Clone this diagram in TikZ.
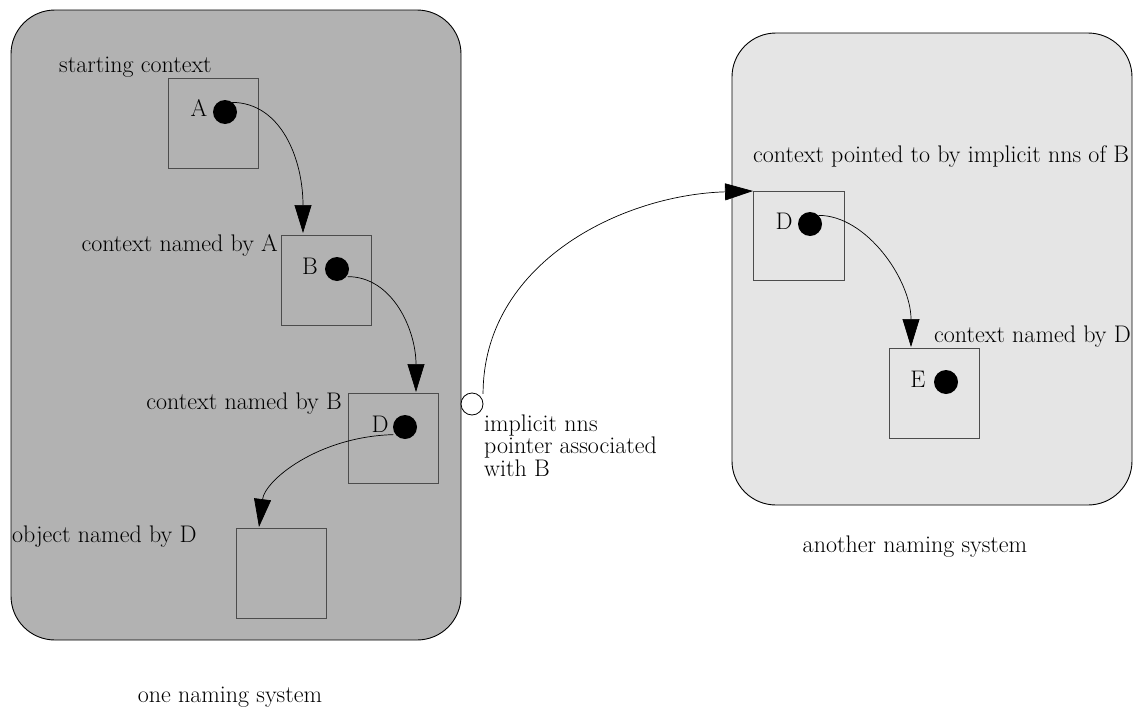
\documentclass[tikz,border=0pt]{standalone}
\usetikzlibrary{arrows.meta}
\begin{document}
\begin{tikzpicture}[x=1pt,y=-1pt,
  every node/.style={font=\fontsize{24}{28}\selectfont},
  region/.style={draw=black,line width=0.9pt,rounded corners=44pt},
  ctxbox/.style={draw=black!70,line width=0.9pt,fill=none},
  dot/.style={circle,fill=black,inner sep=0pt,minimum size=24pt},
  hole/.style={circle,draw=black,fill=white,line width=0.8pt,inner sep=0pt,minimum size=22pt},
  link/.style={draw=black,line width=0.7pt,-{Triangle[length=28pt,width=17pt]}},
  lbl/.style={inner sep=0pt}
]
\useasboundingbox (0,0) rectangle (1133,707);

% the two naming systems
\draw[region,fill=black!30] (11,10) rectangle (461,640);
\draw[region,fill=black!10] (732,33) rectangle (1132,505);

% contexts of the first system
\draw[ctxbox] (168,78) rectangle (258,168);
\draw[ctxbox] (281,235) rectangle (371,325);
\draw[ctxbox] (348,393) rectangle (438,483);
\draw[ctxbox] (236,528) rectangle (326,618);
% contexts of the second system
\draw[ctxbox] (753,191) rectangle (844,280);
\draw[ctxbox] (889,348) rectangle (979,438);

% bound names
\node[dot] (dA) at (225,112) {};
\node[dot] (dB) at (337,269) {};
\node[dot] (dD) at (405,427) {};
\node[dot] (dD2) at (810,224) {};
\node[dot] (dE) at (946,382) {};
\node[lbl,anchor=base] (nA) at (199,116) {A};
\node[lbl,anchor=base] (nB) at (310,274) {B};
\node[lbl,anchor=base] (nD) at (380,432) {D};
\node[lbl,anchor=base] (nD2) at (784,229) {D};
\node[lbl,anchor=base] (nE) at (918,387) {E};

% implicit nns pointer
\node[hole] (nns) at (472,404) {};

% arrow targets on the boxes
\coordinate (tB) at (303,233);
\coordinate (tD) at (416,392);
\coordinate (tObj) at (259,527);
\coordinate (tD2) at (753,191);
\coordinate (tE) at (911,347);

% name resolution links
\draw[link] (dA.north east) ++(-2,-1) .. controls +(50,0) and (303,160) .. (tB);
\draw[link] (dB.south east) ++(2,-1) .. controls +(45,0) and (416,330) .. (tD);
\draw[link] (dD.south west) ++(-3,-1) .. controls +(-75,2) and (265,480) .. (tObj);
\draw[link] (nns.north east) ++(3,-2) .. controls +(0,-130) and (620,195) .. (tD2);
\draw[link] (dD2.north east) .. controls +(48,0) and (911,280) .. (tE);

% captions
\node[lbl,anchor=base west] (cA) at (59,72) {starting context};
\node[lbl,anchor=base east] (cB) at (278,251) {context named by A};
\node[lbl,anchor=base east] (cD) at (342,409) {context named by B};
\node[lbl,anchor=base west] (cObj) at (12,542) {object named by D};
\node[lbl,anchor=base west] (cNns) at (484,431) {implicit nns};
\node[lbl,anchor=base west] (cNns2) at (484,453) {pointer associated};
\node[lbl,anchor=base west] (cNns3) at (484,476) {with B};
\node[lbl,anchor=base west] (cD2) at (753,162) {context pointed to by implicit nns of B};
\node[lbl,anchor=base west] (cE) at (934,342) {context named by D};
\node[lbl,anchor=base] (sys2) at (915,552) {another naming system};
\node[lbl,anchor=base] (sys1) at (230,702) {one naming system};
\end{tikzpicture}
\end{document}
